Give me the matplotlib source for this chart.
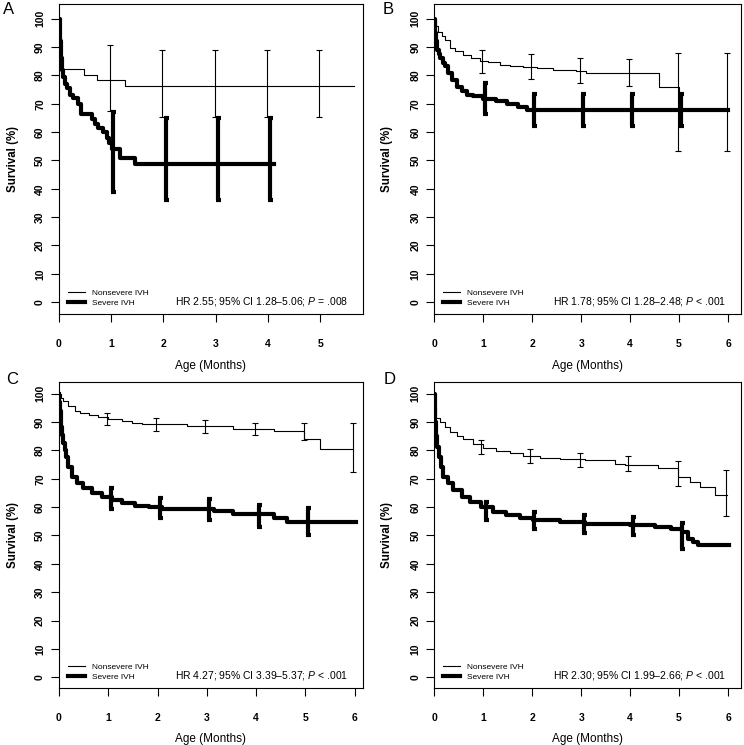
import numpy as np
import matplotlib
matplotlib.use("Agg")
import matplotlib.pyplot as plt

plt.rcParams['font.family'] = ['Liberation Sans', 'DejaVu Sans']
plt.rcParams['mathtext.fontset'] = 'custom'
plt.rcParams['mathtext.it'] = 'Liberation Sans:italic'
plt.rcParams['mathtext.rm'] = 'Liberation Sans'

# Panel A
a_non_t = [0, 0.02, 0.47, 0.73, 1.26, 5.64]
a_non_s = [100, 82.3, 80.0, 78.4, 76.4, 76.4]
a_sev_t = [0, 0.01, 0.02, 0.03, 0.05, 0.08, 0.11, 0.15, 0.21, 0.27, 0.37, 0.42,
           0.63, 0.68, 0.75, 0.85, 0.91, 0.96, 1.01, 1.17, 1.46, 4.12]
a_sev_s = [100, 97, 92, 86, 82, 79.5, 77, 75.5, 73, 72, 70, 66.5,
           64.5, 63, 61.5, 60, 58, 56, 54, 51, 48.7, 48.7]
a_non_bx = [0.98, 1.98, 2.98, 3.98, 4.98]
a_non_lo = [67.5, 65.5, 65.5, 65.5, 65.5]
a_non_hi = [90.8, 89, 89, 89, 89]
a_sev_bx = [1.04, 2.04, 3.04, 4.04]
a_sev_lo = [38.8, 36, 36, 36]
a_sev_hi = [67.2, 65, 65, 65]

# Panel B
b_non_t = [0, 0.03, 0.08, 0.15, 0.22, 0.32, 0.42, 0.59, 0.76, 0.93, 1.1, 1.34,
           1.55, 1.82, 2.09, 2.43, 2.9, 3.1, 4.6, 4.99, 6.0]
b_non_s = [100, 97.5, 95.5, 94, 92.6, 89.6, 88.5, 87.3, 86.1, 85.2, 84.6, 83.8,
           83.4, 82.9, 82.6, 82.0, 81.5, 80.9, 76.0, 67.8, 67.8]
b_sev_t = [0, 0.02, 0.04, 0.06, 0.09, 0.12, 0.17, 0.22, 0.29, 0.37, 0.46, 0.56,
           0.66, 0.8, 1.0, 1.27, 1.48, 1.72, 1.9, 6.0]
b_sev_s = [100, 95, 92, 89, 87.5, 86, 84.5, 83.2, 80.8, 78.5, 76, 74.4,
           73.2, 72.6, 71.8, 70.8, 70, 68.8, 67.8, 67.8]
b_non_bx = [0.97, 1.97, 2.97, 3.97, 4.97, 5.97]
b_non_lo = [81, 78.8, 77.3, 76.1, 53.3, 53.3]
b_non_hi = [89, 87.5, 86.1, 85.8, 87.8, 87.8]
b_sev_bx = [1.04, 2.04, 3.04, 4.04, 5.04]
b_sev_lo = [66.3, 62.3, 62.3, 62.3, 62.3]
b_sev_hi = [77.3, 73.6, 73.6, 73.6, 73.6]

# Panel C
c_non_t = [0, 0.04, 0.09, 0.19, 0.33, 0.43, 0.6, 0.8, 1.0, 1.27, 1.48, 1.68,
           2.59, 3.54, 4.36, 4.98, 5.29, 5.97]
c_non_s = [100, 98.5, 97.5, 95.7, 94, 93.3, 92.6, 91.9, 91.1, 90.4, 89.8, 89.2,
           88.5, 87.7, 86.8, 84.1, 80.4, 80.4]
c_sev_t = [0, 0.01, 0.02, 0.035, 0.05, 0.07, 0.09, 0.115, 0.14, 0.19, 0.26, 0.36,
           0.49, 0.66, 0.87, 1.07, 1.27, 1.54, 1.82, 2.09, 2.56, 3.14, 3.54, 4.36,
           4.63, 6.02]
c_sev_s = [100, 97, 94, 91, 88.4, 85.5, 82.5, 80, 77.8, 74, 70.7, 68.4,
           66.6, 65.1, 63.7, 62.5, 61.6, 60.5, 59.9, 59.5, 59.2, 58.5, 57.5, 56.2,
           54.8, 54.8]
c_non_bx = [0.97, 1.96, 2.97, 3.97, 4.97, 5.97]
c_non_lo = [89, 86.8, 86.1, 85.3, 83.5, 72.4]
c_non_hi = [93.1, 91.3, 90.6, 89.8, 89.7, 89.7]
c_sev_bx = [1.05, 2.04, 3.05, 4.05, 5.05]
c_sev_lo = [59.2, 56.1, 55.3, 53, 50.1]
c_sev_hi = [66.6, 63.1, 62.7, 60.9, 59.8]

# Panel D
d_non_t = [0, 0.01, 0.03, 0.12, 0.22, 0.32, 0.46, 0.59, 0.79, 1.0, 1.27, 1.54,
           1.81, 2.15, 2.56, 3.08, 3.69, 3.9, 4.57, 4.97, 5.22, 5.42, 5.73, 5.97]
d_non_s = [100, 95, 91.3, 90.1, 88.4, 86.6, 85.1, 83.9, 82.3, 81, 79.9, 79,
           78.1, 77.4, 77, 76.5, 75.3, 74.7, 73.8, 70.6, 68.9, 67.1, 64.2, 64.2]
d_sev_t = [0, 0.01, 0.02, 0.04, 0.06, 0.09, 0.13, 0.18, 0.29, 0.39, 0.56, 0.73,
           0.96, 1.2, 1.47, 1.75, 2.02, 2.56, 3.08, 4.0, 4.5, 4.84, 5.05, 5.18,
           5.28, 5.39, 6.03]
d_sev_s = [100, 95, 90, 85, 81.3, 77.5, 74.3, 70.7, 68.4, 66, 63.7, 61.9,
           60.2, 58.4, 57.2, 56, 55.5, 54.9, 54.2, 53.6, 53.0, 52.4, 51.2, 48.9,
           47.7, 46.5, 46.5]
d_non_bx = [0.96, 1.96, 2.98, 3.96, 4.97, 5.96]
d_non_lo = [78.7, 75.4, 74.1, 72.6, 67.3, 56.8]
d_non_hi = [83.7, 80.4, 79.1, 77.9, 76.1, 73]
d_sev_bx = [1.05, 2.04, 3.05, 4.05, 5.05]
d_sev_lo = [55.5, 52.2, 50.9, 50.3, 45.1]
d_sev_hi = [61.9, 58.4, 57.1, 56.5, 54.4]

hr_texts = ["HR 2.55; 95% CI 1.28\u20135.06; $\\mathit{P}$ = .008",
            "HR 1.78; 95% CI 1.28\u20132.48; $\\mathit{P}$ < .001",
            "HR 4.27; 95% CI 3.39\u20135.37; $\\mathit{P}$ < .001",
            "HR 2.30; 95% CI 1.99\u20132.66; $\\mathit{P}$ < .001"]
letters = ["A", "B", "C", "D"]


def bars(ax, x, lo, hi, lw, cap):
    lo = np.array(lo)
    hi = np.array(hi)
    ax.errorbar(x, (lo + hi) / 2, yerr=(hi - lo) / 2, fmt='none', ecolor='black',
                elinewidth=lw, capsize=cap, capthick=lw)


def panel(ax, nt, ns, st, ss, nbx, nlo, nhi, sbx, slo, shi, xmax, xlim, ylim, hr):
    ax.step(nt, ns, where='post', color='black', lw=0.8, label='Nonsevere IVH')
    ax.step(st, ss, where='post', color='black', lw=3.0, label='Severe IVH')
    bars(ax, nbx, nlo, nhi, 0.8, 2.2)
    bars(ax, sbx, slo, shi, 3.0, 1.8)
    ax.set_xlim(0, xlim)
    ax.set_ylim(*ylim)
    ax.set_xticks(range(0, xmax + 1))
    ax.set_yticks(range(0, 101, 10))
    for lab in ax.get_yticklabels():
        lab.set_rotation(90)
        lab.set_va('center')
    ax.tick_params(axis='x', length=6, width=0.8, pad=12, labelsize=7.5)
    ax.tick_params(axis='y', length=6, width=0.8, pad=4, labelsize=7.5)
    for lab in ax.get_xticklabels() + ax.get_yticklabels():
        lab.set_fontweight('bold')
    for sp in ax.spines.values():
        sp.set_linewidth(0.8)
    ax.set_xlabel('Age (Months)', fontsize=8.5)
    ax.xaxis.set_label_coords(0.5, -0.148)
    ax.set_ylabel('Survival (%)', fontsize=8.3, fontweight='bold')
    ax.yaxis.set_label_coords(-0.133, 0.5)
    ax.legend(loc='lower left', bbox_to_anchor=(0.005, 0.0), frameon=False,
              fontsize=6, handlelength=2.0, handletextpad=0.9, labelspacing=0.25,
              borderpad=0.4)
    ax.text(0.952, 0.04, hr, transform=ax.transAxes, ha='right', va='center',
            fontsize=7.5)


fig = plt.figure(figsize=(7.44, 7.45), dpi=100)
axA = fig.add_axes([0.0793, 0.5785, 0.4086, 0.4161])
axB = fig.add_axes([0.5837, 0.5785, 0.4126, 0.4161])
axC = fig.add_axes([0.0793, 0.0765, 0.4086, 0.4107])
axD = fig.add_axes([0.5837, 0.0765, 0.4126, 0.4107])

panel(axA, a_non_t, a_non_s, a_sev_t, a_sev_s, a_non_bx, a_non_lo, a_non_hi,
      a_sev_bx, a_sev_lo, a_sev_hi, 5, 5.82, (-4.2, 105.2), hr_texts[0])
panel(axB, b_non_t, b_non_s, b_sev_t, b_sev_s, b_non_bx, b_non_lo, b_non_hi,
      b_sev_bx, b_sev_lo, b_sev_hi, 6, 6.27, (-4.2, 105.2), hr_texts[1])
panel(axC, c_non_t, c_non_s, c_sev_t, c_sev_s, c_non_bx, c_non_lo, c_non_hi,
      c_sev_bx, c_sev_lo, c_sev_hi, 6, 6.17, (-3.8, 104.1), hr_texts[2])
panel(axD, d_non_t, d_non_s, d_sev_t, d_sev_s, d_non_bx, d_non_lo, d_non_hi,
      d_sev_bx, d_sev_lo, d_sev_hi, 6, 6.27, (-3.8, 104.1), hr_texts[3])

fig.text(0.004, 0.997, letters[0], fontsize=12, ha='left', va='top')
fig.text(0.514, 0.997, letters[1], fontsize=12, ha='left', va='top')
fig.text(0.008, 0.5, letters[2], fontsize=12, ha='left', va='top')
fig.text(0.516, 0.5, letters[3], fontsize=12, ha='left', va='top')

fig.savefig('out.png', dpi=100)
